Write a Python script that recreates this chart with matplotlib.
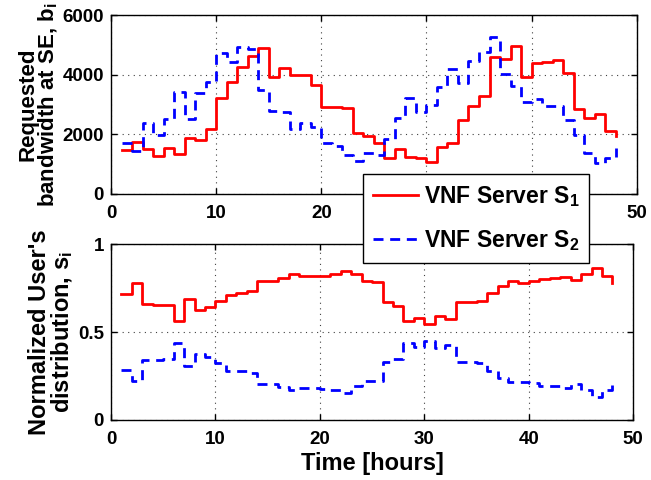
import numpy as np
import matplotlib
matplotlib.use("Agg")
import matplotlib.pyplot as plt
from matplotlib.lines import Line2D

# Hourly samples (hour index 1..48)
hours = list(range(1, 49))

# Requested bandwidth at each SE
bw_s1 = [1460, 1750, 1500, 1270, 1550, 1345, 1890, 1800, 2180, 3230,
         3740, 4270, 4630, 4890, 3930, 4240, 4000, 4000, 3660, 2930,
         2930, 2880, 2055, 1930, 1700, 1210, 1525, 1250, 1190, 1085,
         1590, 1700, 2470, 2950, 3300, 4600, 4520, 4965, 3930, 4390,
         4440, 4480, 4060, 2860, 2536, 2680, 2120, 1930]
bw_s2 = [1720, 1425, 2370, 1980, 2525, 3430, 2525, 3374, 3750, 4715,
         4436, 4938, 4861, 3486, 2780, 2740, 2180, 2370, 2250, 1710,
         1600, 1300, 1117, 1364, 1300, 1830, 2550, 3207, 2760, 2980,
         3600, 4180, 3720, 4470, 4760, 5270, 4020, 3620, 3095, 3184,
         2950, 2950, 2480, 1990, 1386, 1030, 1218, 1550]

# Normalized user distribution
share_s1 = [0.716, 0.777, 0.659, 0.653, 0.655, 0.564, 0.691, 0.625, 0.644, 0.676,
            0.714, 0.720, 0.733, 0.792, 0.790, 0.809, 0.831, 0.818, 0.818, 0.820,
            0.831, 0.850, 0.833, 0.792, 0.783, 0.672, 0.648, 0.564, 0.581, 0.549,
            0.591, 0.572, 0.672, 0.669, 0.678, 0.723, 0.761, 0.790, 0.782, 0.792,
            0.803, 0.809, 0.814, 0.799, 0.830, 0.866, 0.822, 0.780]
share_s2 = [0.284, 0.223, 0.341, 0.341, 0.345, 0.436, 0.307, 0.373, 0.356, 0.326,
            0.280, 0.280, 0.265, 0.205, 0.205, 0.189, 0.170, 0.180, 0.180, 0.178,
            0.169, 0.152, 0.195, 0.220, 0.220, 0.328, 0.350, 0.439, 0.417, 0.451,
            0.407, 0.428, 0.328, 0.330, 0.322, 0.280, 0.237, 0.218, 0.218, 0.212,
            0.193, 0.193, 0.184, 0.203, 0.170, 0.129, 0.170, 0.218]

labels = ["VNF Server S$_\\mathbf{1}$", "VNF Server S$_\\mathbf{2}$"]

plt.rcParams['font.family'] = ['Liberation Sans', 'DejaVu Sans']
plt.rcParams['font.weight'] = 'bold'
plt.rcParams['mathtext.fontset'] = 'custom'
plt.rcParams['mathtext.rm'] = 'Liberation Sans:bold'
plt.rcParams['mathtext.bf'] = 'Liberation Sans:bold'
plt.rcParams['mathtext.it'] = 'Liberation Sans:bold'

W, H = 651, 480
fig = plt.figure(figsize=(W / 100, H / 100), dpi=100)

ax1 = fig.add_axes([111 / W, 1 - 194 / H, (636.7 - 111) / W, (194 - 15) / H])
ax2 = fig.add_axes([111 / W, 1 - 420 / H, (633.3 - 111) / W, (420 - 244.3) / H])

red_kw = dict(color='#ff0000', lw=2.0, where='post')
blue_kw = dict(color='#0000ff', lw=2.0, where='post', dashes=(3.6, 2.4))

ax1.step(hours, bw_s1, **red_kw)
ax1.step(hours, bw_s2, **blue_kw)
ax2.step(hours, share_s1, **red_kw)
ax2.step(hours, share_s2, **blue_kw)

ax1.set_xlim(0, 50)
ax1.set_ylim(0, 6000)
ax1.set_yticks([0, 2000, 4000, 6000])
ax2.set_xlim(0, 50)
ax2.set_ylim(0, 1)
ax2.set_yticks([0, 0.5, 1])
ax2.set_yticklabels(['0', '0.5', '1'])

for ax in (ax1, ax2):
    ax.set_xticks([0, 10, 20, 30, 40, 50])
    ax.tick_params(direction='in', top=True, right=True, length=4,
                   width=1, labelsize=13.5)
    ax.tick_params(axis='x', pad=8)
    ax.tick_params(axis='y', pad=5)
    for lab in ax.get_xticklabels() + ax.get_yticklabels():
        lab.set_fontweight('bold')
    ax.grid(True, color='0.25', linestyle=(0, (1, 4)), linewidth=0.8)
    for sp in ax.spines.values():
        sp.set_linewidth(1.0)

ax1.set_ylabel("Requested\nbandwidth at SE, b$_\\mathbf{i}$", fontsize=16,
               fontweight='bold', linespacing=0.9, labelpad=2)
ax2.set_ylabel("Normalized User's\ndistribution, s$_\\mathbf{i}$", fontsize=17,
               fontweight='bold', linespacing=0.9, labelpad=2)
ax2.set_xlabel("Time [hours]", fontsize=17, fontweight='bold', labelpad=3)

handles = [Line2D([], [], color='#ff0000', lw=2.0),
           Line2D([], [], color='#0000ff', lw=2.0, dashes=(3.6, 2.4))]
leg = fig.legend(handles, labels, loc='upper left',
                 bbox_to_anchor=(363 / W, 1 - 174 / H),
                 prop={'size': 16.5, 'weight': 'bold'},
                 frameon=True, fancybox=False, framealpha=1,
                 edgecolor='black', borderpad=0.42, handlelength=2.0,
                 handletextpad=0.22, labelspacing=0.85, borderaxespad=0)
leg.get_frame().set_linewidth(1.0)

fig.savefig("out.png", dpi=100)
